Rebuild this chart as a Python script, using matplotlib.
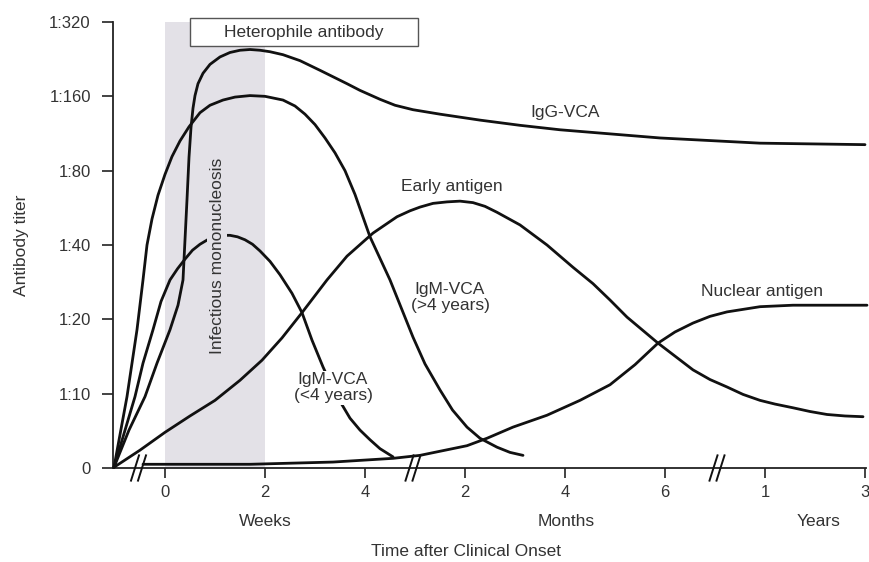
import matplotlib
matplotlib.use("Agg")
import matplotlib.pyplot as plt
from matplotlib.patches import Rectangle

plt.rcParams["font.family"] = ["Liberation Sans", "DejaVu Sans"]

# x axis is drawn on one running scale: weeks 0-4, then months (u = month + 4),
# then years (u = year + 11); y is the titer step (0 .. 1:320)
titer_labels = ["0", "1:10", "1:20", "1:40", "1:80", "1:160", "1:320"]
tick_pos = [0, 2, 4, 6, 8, 10, 12, 14]
tick_labels = ["0", "2", "4", "2", "4", "6", "1", "3"]
breaks = [-0.53, 4.96, 11.04]

igg_vca_x = [-1.02, -0.72, -0.40, -0.16, 0.10, 0.26, 0.36, 0.40, 0.44, 0.48, 0.52, 0.56,
             0.60, 0.66, 0.76, 0.90, 1.10, 1.30, 1.50, 1.70, 1.90, 2.10, 2.36, 2.70,
             3.10, 3.40, 3.64, 3.90, 4.30, 4.60, 4.96, 5.50, 6.30, 7.10, 7.90, 9.90,
             11.90, 14.00]
igg_vca_y = [0.01, 0.51, 0.96, 1.41, 1.86, 2.19, 2.53, 3.07, 3.61, 4.18, 4.58, 4.84,
             5.01, 5.17, 5.31, 5.43, 5.53, 5.59, 5.62, 5.63, 5.62, 5.60, 5.56, 5.48,
             5.35, 5.25, 5.17, 5.08, 4.96, 4.88, 4.82, 4.76, 4.68, 4.61, 4.55, 4.44,
             4.37, 4.35]

igm_late_x = [-1.02, -0.76, -0.66, -0.56, -0.44, -0.36, -0.26, -0.14, 0.00, 0.14, 0.30,
              0.48, 0.70, 0.90, 1.16, 1.40, 1.70, 2.00, 2.36, 2.60, 2.80, 3.00, 3.20,
              3.40, 3.60, 3.80, 4.10, 4.50, 4.96, 5.20, 5.50, 5.75, 6.04, 6.30, 6.64,
              6.90, 7.16]
igm_late_y = [0.01, 0.96, 1.41, 1.86, 2.53, 3.00, 3.35, 3.67, 3.95, 4.19, 4.40,
              4.59, 4.78, 4.88, 4.95, 4.99, 5.01, 5.00, 4.95, 4.87, 4.76, 4.62, 4.44,
              4.24, 4.00, 3.68, 3.11, 2.53, 1.76, 1.40, 1.05, 0.78, 0.55, 0.40, 0.28,
              0.21, 0.17]

igm_early_x = [-1.02, -0.60, -0.44, -0.24, -0.08, 0.10, 0.25, 0.40, 0.55, 0.70, 0.85, 1.00,
               1.15, 1.30, 1.45, 1.60, 1.75, 1.90, 2.10, 2.30, 2.54, 2.74, 2.94, 3.16,
               3.40, 3.70, 3.90, 4.10, 4.30, 4.56]
igm_early_y = [0.01, 0.96, 1.41, 1.86, 2.24, 2.53, 2.68, 2.81, 2.93, 3.01, 3.07, 3.11,
               3.13, 3.13, 3.11, 3.07, 3.01, 2.92, 2.78, 2.60, 2.35, 2.09, 1.72, 1.36,
               1.01, 0.67, 0.51, 0.38, 0.26, 0.15]

early_ag_x = [-1.02, -0.50, 0.00, 0.50, 1.00, 1.50, 1.94, 2.34, 2.74, 3.24, 3.64, 4.16, 4.64,
              4.90, 5.10, 5.36, 5.64, 5.90, 6.16, 6.40, 6.64, 7.10, 7.64, 8.16, 8.56,
              8.90, 9.24, 9.86, 10.56, 10.90, 11.24, 11.56, 11.90, 12.20, 12.56, 12.90,
              13.24, 13.60, 13.96]
early_ag_y = [0.01, 0.24, 0.48, 0.70, 0.91, 1.18, 1.45, 1.75, 2.09, 2.53, 2.85, 3.16, 3.38,
              3.46, 3.51, 3.56, 3.58, 3.59, 3.57, 3.52, 3.44, 3.27, 3.00, 2.70, 2.48,
              2.26, 2.03, 1.68, 1.32, 1.19, 1.09, 0.99, 0.91, 0.86, 0.81, 0.76,
              0.72, 0.70, 0.69]

nuclear_ag_x = [-0.44, 1.70, 3.36, 4.56, 5.10, 6.04, 6.44, 6.96, 7.64, 8.30, 8.90, 9.40,
                9.86, 10.20, 10.56, 10.90, 11.24, 11.90, 12.56, 14.04]
nuclear_ag_y = [0.05, 0.05, 0.08, 0.13, 0.17, 0.30, 0.40, 0.55, 0.71, 0.91, 1.12, 1.39,
                1.68, 1.83, 1.95, 2.04, 2.10, 2.17, 2.19, 2.19]

W, H = 869, 562
fig = plt.figure(figsize=(W / 100, H / 100), dpi=100)
ax = fig.add_axes([113 / W, 1 - 468 / H, (866 - 113) / W, (468 - 22) / H])
ax.set_xlim(-1.04, 14.02)
ax.set_ylim(0, 6)

txt = "#333333"
line = "#111111"

ax.axvspan(0, 2, color="#e3e1e7", zorder=0, lw=0)

for xs, ys in [(igg_vca_x, igg_vca_y), (igm_late_x, igm_late_y), (igm_early_x, igm_early_y),
               (early_ag_x, early_ag_y), (nuclear_ag_x, nuclear_ag_y)]:
    ax.plot(xs, ys, color=line, lw=2.0, solid_joinstyle="round", solid_capstyle="round",
            clip_on=False, zorder=3)

# heterophile antibody bar
ax.add_patch(Rectangle((0.5, 5.68), 4.56, 0.37, facecolor="white", edgecolor="#555555",
                       lw=1.0, clip_on=False, zorder=4))
ax.text(2.78, 5.86, "Heterophile antibody", ha="center", va="center", fontsize=12.5,
        color=txt, zorder=5)

ax.text(1.04, 2.85, "Infectious mononucleosis", rotation=90, ha="center", va="center",
        fontsize=12.5, color=txt, zorder=5,
        bbox=dict(facecolor="#e3e1e7", edgecolor="none", pad=1.5))

ax.text(8.0, 4.78, "IgG-VCA", ha="center", va="center", fontsize=12.5, color=txt)
ax.text(5.74, 3.79, "Early antigen", ha="center", va="center", fontsize=12.5, color=txt)
ax.text(5.7, 2.29, "IgM-VCA\n(>4 years)", ha="center", va="center", fontsize=12.5,
        color=txt, linespacing=1.1)
ax.text(3.36, 1.08, "IgM-VCA\n(<4 years)", ha="center", va="center", fontsize=12.5,
        color=txt, linespacing=1.1, zorder=5,
        bbox=dict(facecolor="white", edgecolor="none", pad=1.0))
ax.text(11.94, 2.38, "Nuclear antigen", ha="center", va="center", fontsize=12.5, color=txt)

# axis breaks
for b in breaks:
    for off in (-0.07, 0.07):
        ax.plot([b + off - 0.08, b + off + 0.08], [-0.17, 0.17], color=line, lw=1.4,
                clip_on=False, zorder=6)

for side in ("top", "right"):
    ax.spines[side].set_visible(False)
for side in ("left", "bottom"):
    ax.spines[side].set_color("#222222")
    ax.spines[side].set_linewidth(1.3)

ax.set_yticks(range(len(titer_labels)))
ax.set_yticklabels(titer_labels)
ax.set_xticks(tick_pos)
ax.set_xticklabels(tick_labels)
ax.tick_params(axis="y", direction="out", length=8, width=1.2, pad=8,
               labelsize=12, labelcolor=txt, color="#222222")
ax.tick_params(axis="x", direction="out", length=7, width=1.2, pad=5,
               labelsize=12, labelcolor=txt, color="#222222")

fig.text(265 / W, 1 - 521 / H, "Weeks", ha="center", va="center", fontsize=12.5, color=txt)
fig.text(566 / W, 1 - 521 / H, "Months", ha="center", va="center", fontsize=12.5, color=txt)
fig.text(819 / W, 1 - 521 / H, "Years", ha="center", va="center", fontsize=12.5, color=txt)
fig.text(466 / W, 1 - 551 / H, "Time after Clinical Onset", ha="center", va="center",
         fontsize=12.5, color=txt)
fig.text(22 / W, 1 - 245 / H, "Antibody titer", rotation=90, ha="center", va="center",
         fontsize=12.5, color=txt)

fig.savefig("out.png", dpi=100)
